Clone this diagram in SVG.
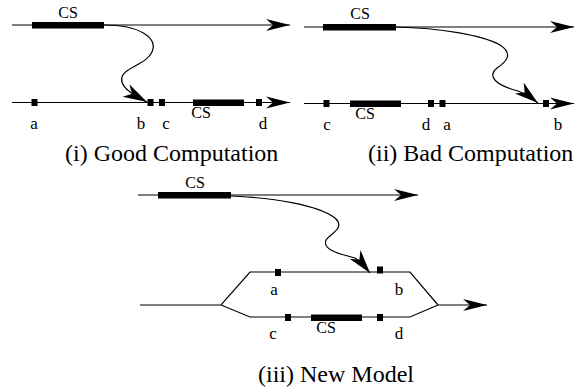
<svg xmlns="http://www.w3.org/2000/svg" width="574" height="392" viewBox="0 0 574 392">
<style>
.ln{stroke:#000;stroke-width:1.2;fill:none}
.bar{fill:#000}
.mk{fill:#000}
text{font-family:'Liberation Serif','DejaVu Serif',serif;fill:#000}
.lbl{font-size:17px;text-anchor:middle}
.cs{font-size:16px;text-anchor:middle}
.cap{font-size:24px}
</style>
<defs>
<marker id="ah" markerUnits="userSpaceOnUse" viewBox="-25 -7 26 14" refX="0" refY="0" markerWidth="26" markerHeight="14" orient="auto">
<path d="M0,0 L-24,-6 L-17,0 L-24,6 Z" fill="#000"/>
</marker>
<marker id="ah2" markerUnits="userSpaceOnUse" viewBox="-25 -8 26 16" refX="0" refY="0" markerWidth="26" markerHeight="16" orient="auto">
<path d="M0,0 L-24,-7 L-17,0 L-24,7 Z" fill="#000"/>
</marker>
</defs>

<g id="connectors">
<line class="ln" x1="12" y1="25" x2="290" y2="25" marker-end="url(#ah)"/>
<line class="ln" x1="12" y1="102.5" x2="290" y2="102.5" marker-end="url(#ah)"/>
<path class="ln" d="M104,25 C140,25 158,38 152,52 C146,66 118,68 122,82 C124,90 136,96 147,102" marker-end="url(#ah2)"/>
<line class="ln" x1="304" y1="27" x2="574" y2="27" marker-end="url(#ah)"/>
<line class="ln" x1="304" y1="103.5" x2="574" y2="103.5" marker-end="url(#ah)"/>
<path class="ln" d="M396,27 C440,28 482,35 500,45 C514,54 506,62 497,68 C487,76 495,85 518,91 C526,94 533,99 538,103" marker-end="url(#ah2)"/>
<line class="ln" x1="138" y1="195" x2="418" y2="195" marker-end="url(#ah)"/>
<path class="ln" d="M231,196 C275,198 318,205 335,218 C346,228 330,234 326,240 C322,250 340,254 355,258 C362,262 366,268 370,273" marker-end="url(#ah2)"/>
<path class="ln" d="M140,305 L221,305 L250,272 L410,272 L438,305 M221,305 L250,317 L410,317 L438,305"/>
<line class="ln" x1="438" y1="305" x2="487" y2="305" marker-end="url(#ah)"/>
</g>

<g id="panel-i">
<rect id="cs-i-top" class="bar" x="32" y="22" width="72" height="6.5"/>
<text class="cs" x="68" y="18">CS</text>
<rect id="i-a" class="mk" x="31.5" y="99" width="6" height="7"/>
<rect id="i-b" class="mk" x="147.5" y="99" width="6" height="7"/>
<rect id="i-c" class="mk" x="159" y="99" width="6" height="7"/>
<rect id="cs-i-bot" class="bar" x="193" y="99.5" width="51" height="6.5"/>
<rect id="i-d" class="mk" x="256" y="99" width="6" height="7"/>
<text class="cs" x="201" y="118">CS</text>
<text class="lbl" x="34" y="129">a</text>
<text class="lbl" x="141" y="129">b</text>
<text class="lbl" x="166" y="129">c</text>
<text class="lbl" x="263" y="129">d</text>
<text class="cap" x="65" y="161">(i) Good Computation</text>
</g>

<g id="panel-ii">
<rect id="cs-ii-top" class="bar" x="323" y="24" width="73" height="6.5"/>
<text class="cs" x="360" y="19">CS</text>
<rect id="ii-c" class="mk" x="323.5" y="100" width="6" height="7"/>
<rect id="cs-ii-bot" class="bar" x="350" y="100.5" width="51" height="6.5"/>
<rect id="ii-d" class="mk" x="428" y="100" width="6" height="7"/>
<rect id="ii-a" class="mk" x="439.5" y="100" width="6" height="7"/>
<rect id="ii-b" class="mk" x="543" y="100" width="6" height="7"/>
<text class="cs" x="365" y="119">CS</text>
<text class="lbl" x="327" y="130">c</text>
<text class="lbl" x="426" y="130">d</text>
<text class="lbl" x="447" y="130">a</text>
<text class="lbl" x="558" y="130">b</text>
<text class="cap" x="368" y="161">(ii) Bad Computation</text>
</g>

<g id="panel-iii">
<rect id="cs-iii-top" class="bar" x="158" y="192" width="73" height="6.5"/>
<text class="cs" x="195" y="188">CS</text>
<rect id="iii-a" class="mk" x="275" y="269" width="6" height="7"/>
<rect id="iii-b" class="mk" x="377" y="266.5" width="6" height="7"/>
<rect id="iii-c" class="mk" x="285" y="314" width="6" height="7"/>
<rect id="cs-iii-bot" class="bar" x="311" y="314.5" width="51" height="6.5"/>
<rect id="iii-d" class="mk" x="377" y="314" width="6" height="7"/>
<text class="cs" x="326" y="333">CS</text>
<text class="lbl" x="274" y="295">a</text>
<text class="lbl" x="399" y="295">b</text>
<text class="lbl" x="273" y="339">c</text>
<text class="lbl" x="399" y="339">d</text>
<text class="cap" x="258" y="382">(iii) New Model</text>
</g>
</svg>
